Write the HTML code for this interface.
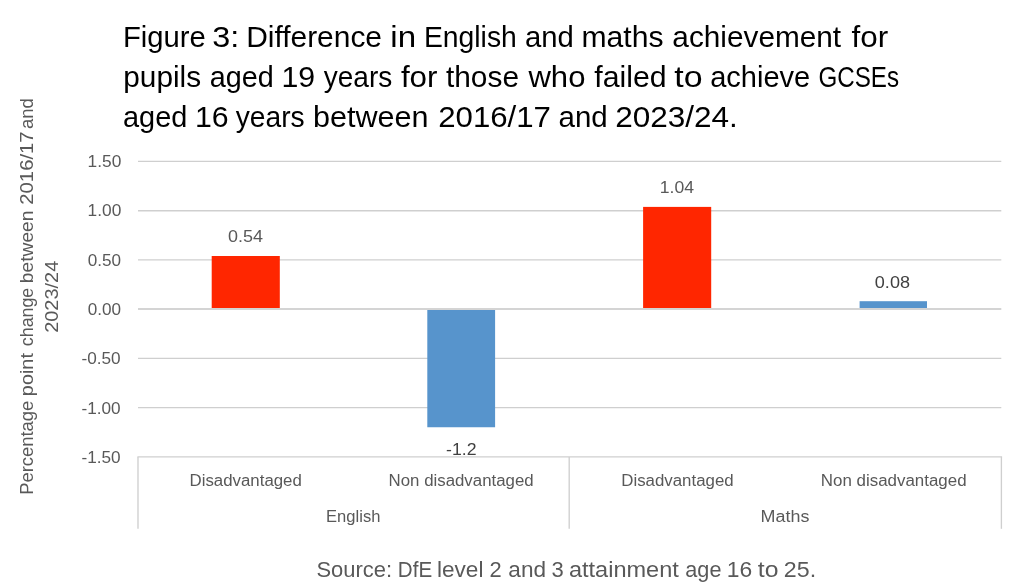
<!DOCTYPE html>
<html lang="en">
<head>
<meta charset="utf-8">
<title>Figure 3</title>
<style>
html,body{margin:0;padding:0;background:#fff;}
body{width:1024px;height:588px;overflow:hidden;}
svg{display:block;}
text{font-family:"Liberation Sans",sans-serif;}
.title{font-size:30px;fill:#000;}
.lbl{font-size:17.3px;fill:#595959;}
.ytitle{font-size:18.8px;fill:#595959;}
.src{font-size:22.5px;fill:#595959;}
.grid line{stroke:#cfcfcf;stroke-width:1.35;}
</style>
</head>
<body>
<svg width="1024" height="588" viewBox="0 0 1024 588">
<rect x="0" y="0" width="1024" height="588" fill="#ffffff"/>

<!-- gridlines -->
<g class="grid">
<line x1="138" y1="161.4" x2="1001.3" y2="161.4"/>
<line x1="138" y1="210.7" x2="1001.3" y2="210.7"/>
<line x1="138" y1="259.8" x2="1001.3" y2="259.8"/>
<line x1="138" y1="358.4" x2="1001.3" y2="358.4"/>
<line x1="138" y1="407.6" x2="1001.3" y2="407.6"/>
</g>

<!-- bars -->
<rect x="211.7" y="256" width="68.1" height="52.1" fill="#ff2600"/>
<rect x="427.3" y="309.9" width="67.8" height="117.35" fill="#5794cc"/>
<rect x="643.1" y="206.9" width="68.1" height="101.2" fill="#ff2600"/>
<rect x="859.6" y="301.2" width="67.4" height="7" fill="#5794cc"/>

<!-- axis lines -->
<g class="grid">
<line x1="138" y1="309" x2="1001.3" y2="309" style="stroke:#d4d4d4;stroke-width:2"/>
<line x1="137.4" y1="456.9" x2="1002.1" y2="456.9"/>
<line x1="138" y1="456.9" x2="138" y2="528.8"/>
<line x1="569.2" y1="456.9" x2="569.2" y2="528.8"/>
<line x1="1001.4" y1="456.9" x2="1001.4" y2="528.8"/>
</g>

<!-- title -->
<g class="title">
<text x="122.98" y="47.00" textLength="82.80" lengthAdjust="spacingAndGlyphs">Figure</text>
<text x="212.19" y="47.00" textLength="26.98" lengthAdjust="spacingAndGlyphs">3:</text>
<text x="246.14" y="47.00" textLength="135.88" lengthAdjust="spacingAndGlyphs">Difference</text>
<text x="390.33" y="47.00" textLength="25.77" lengthAdjust="spacingAndGlyphs">in</text>
<text x="423.88" y="47.00" textLength="92.97" lengthAdjust="spacingAndGlyphs">English</text>
<text x="525.03" y="47.00" textLength="48.82" lengthAdjust="spacingAndGlyphs">and</text>
<text x="581.53" y="47.00" textLength="82.04" lengthAdjust="spacingAndGlyphs">maths</text>
<text x="672.34" y="47.00" textLength="168.83" lengthAdjust="spacingAndGlyphs">achievement</text>
<text x="851.47" y="47.00" textLength="36.65" lengthAdjust="spacingAndGlyphs">for</text>
<text x="123.26" y="86.50" textLength="77.82" lengthAdjust="spacingAndGlyphs">pupils</text>
<text x="209.74" y="86.50" textLength="64.03" lengthAdjust="spacingAndGlyphs">aged</text>
<text x="281.52" y="86.50" textLength="33.69" lengthAdjust="spacingAndGlyphs">19</text>
<text x="323.74" y="86.50" textLength="68.52" lengthAdjust="spacingAndGlyphs">years</text>
<text x="400.91" y="86.50" textLength="36.57" lengthAdjust="spacingAndGlyphs">for</text>
<text x="445.97" y="86.50" textLength="73.04" lengthAdjust="spacingAndGlyphs">those</text>
<text x="528.44" y="86.50" textLength="56.98" lengthAdjust="spacingAndGlyphs">who</text>
<text x="594.34" y="86.50" textLength="72.35" lengthAdjust="spacingAndGlyphs">failed</text>
<text x="674.25" y="86.50" textLength="28.31" lengthAdjust="spacingAndGlyphs">to</text>
<text x="710.16" y="86.50" textLength="100.08" lengthAdjust="spacingAndGlyphs">achieve</text>
<text x="818.44" y="86.50" textLength="80.62" lengthAdjust="spacingAndGlyphs">GCSEs</text>
<text x="122.99" y="126.90" textLength="64.31" lengthAdjust="spacingAndGlyphs">aged</text>
<text x="194.98" y="126.90" textLength="33.67" lengthAdjust="spacingAndGlyphs">16</text>
<text x="235.74" y="126.90" textLength="68.90" lengthAdjust="spacingAndGlyphs">years</text>
<text x="313.03" y="126.90" textLength="115.55" lengthAdjust="spacingAndGlyphs">between</text>
<text x="438.19" y="126.90" textLength="112.78" lengthAdjust="spacingAndGlyphs">2016/17</text>
<text x="558.50" y="126.90" textLength="49.17" lengthAdjust="spacingAndGlyphs">and</text>
<text x="615.17" y="126.90" textLength="122.69" lengthAdjust="spacingAndGlyphs">2023/24.</text>
</g>
<!-- source -->
<g class="src">
<text x="316.42" y="577.35" textLength="75.64" lengthAdjust="spacingAndGlyphs">Source:</text>
<text x="397.85" y="577.35" textLength="34.34" lengthAdjust="spacingAndGlyphs">DfE</text>
<text x="436.95" y="577.35" textLength="46.50" lengthAdjust="spacingAndGlyphs">level</text>
<text x="489.45" y="577.35" textLength="12.17" lengthAdjust="spacingAndGlyphs">2</text>
<text x="508.39" y="577.35" textLength="37.68" lengthAdjust="spacingAndGlyphs">and</text>
<text x="551.39" y="577.35" textLength="12.24" lengthAdjust="spacingAndGlyphs">3</text>
<text x="568.93" y="577.35" textLength="109.93" lengthAdjust="spacingAndGlyphs">attainment</text>
<text x="685.34" y="577.35" textLength="36.14" lengthAdjust="spacingAndGlyphs">age</text>
<text x="726.70" y="577.35" textLength="25.40" lengthAdjust="spacingAndGlyphs">16</text>
<text x="757.82" y="577.35" textLength="20.66" lengthAdjust="spacingAndGlyphs">to</text>
<text x="783.88" y="577.35" textLength="32.28" lengthAdjust="spacingAndGlyphs">25.</text>
</g>
<!-- y axis title -->
<g class="ytitle">
<text transform="translate(32.50,494.86) rotate(-90)" textLength="94.20" lengthAdjust="spacingAndGlyphs">Percentage</text>
<text transform="translate(32.50,396.15) rotate(-90)" textLength="43.05" lengthAdjust="spacingAndGlyphs">point</text>
<text transform="translate(32.50,346.14) rotate(-90)" textLength="58.35" lengthAdjust="spacingAndGlyphs">change</text>
<text transform="translate(32.50,283.17) rotate(-90)" textLength="72.63" lengthAdjust="spacingAndGlyphs">between</text>
<text transform="translate(32.50,204.68) rotate(-90)" textLength="73.25" lengthAdjust="spacingAndGlyphs">2016/17</text>
<text transform="translate(32.50,129.03) rotate(-90)" textLength="30.87" lengthAdjust="spacingAndGlyphs">and</text>
<text transform="translate(57.50,332.86) rotate(-90)" textLength="72.12" lengthAdjust="spacingAndGlyphs">2023/24</text>
</g>
<!-- labels -->
<g class="lbl">
<text x="87.56" y="166.55" textLength="33.75" lengthAdjust="spacingAndGlyphs">1.50</text>
<text x="87.56" y="215.85" textLength="33.75" lengthAdjust="spacingAndGlyphs">1.00</text>
<text x="87.78" y="265.60" textLength="33.36" lengthAdjust="spacingAndGlyphs">0.50</text>
<text x="87.78" y="314.85" textLength="33.36" lengthAdjust="spacingAndGlyphs">0.00</text>
<text x="81.41" y="364.20" textLength="39.16" lengthAdjust="spacingAndGlyphs">-0.50</text>
<text x="81.41" y="413.70" textLength="39.16" lengthAdjust="spacingAndGlyphs">-1.00</text>
<text x="81.41" y="462.85" textLength="39.16" lengthAdjust="spacingAndGlyphs">-1.50</text>
<text x="227.94" y="242.00" textLength="34.98" lengthAdjust="spacingAndGlyphs">0.54</text>
<text fill="#404040" x="446.04" y="454.65" textLength="30.46" lengthAdjust="spacingAndGlyphs">-1.2</text>
<text x="659.73" y="192.65" textLength="34.26" lengthAdjust="spacingAndGlyphs">1.04</text>
<text fill="#404040" x="874.83" y="287.75" textLength="35.15" lengthAdjust="spacingAndGlyphs">0.08</text>
<text x="189.58" y="486.40" textLength="112.23" lengthAdjust="spacingAndGlyphs">Disadvantaged</text>
<text x="388.58" y="486.40" textLength="145.04" lengthAdjust="spacingAndGlyphs">Non disadvantaged</text>
<text x="621.25" y="486.40" textLength="112.37" lengthAdjust="spacingAndGlyphs">Disadvantaged</text>
<text x="820.84" y="486.40" textLength="145.75" lengthAdjust="spacingAndGlyphs">Non disadvantaged</text>
<text x="326.07" y="521.90" textLength="54.32" lengthAdjust="spacingAndGlyphs">English</text>
<text x="760.63" y="521.90" textLength="48.77" lengthAdjust="spacingAndGlyphs">Maths</text>
</g>
</svg>
</body>
</html>
